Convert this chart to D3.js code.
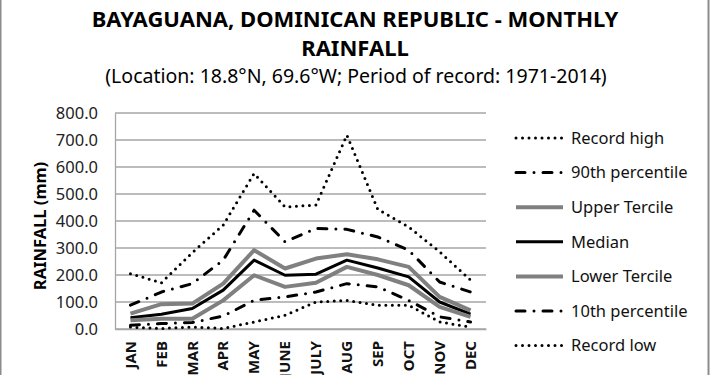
<!DOCTYPE html>
<html>
<head>
<meta charset="utf-8">
<script src="https://cdn.jsdelivr.net/npm/d3@7"></script>
<style>
  html, body { margin: 0; padding: 0; background: #fff; }
  svg { display: block; font-family: "Noto Sans", "Open Sans", sans-serif; }
</style>
</head>
<body>
<div id="chart"></div>
<script>
// monthly rainfall, mm
const months = ["JAN", "FEB", "MAR", "APR", "MAY", "JUNE", "JULY", "AUG", "SEP", "OCT", "NOV", "DEC"];
const recordHigh   = [205, 171, 283, 385, 576, 452, 459, 718, 443, 378, 286, 181];
const pct90        = [88, 137, 168, 255, 440, 323, 372, 369, 341, 292, 174, 137];
const upperTercile = [57, 92, 94, 168, 292, 224, 261, 277, 258, 230, 119, 69];
const median       = [42, 55, 76, 144, 255, 199, 203, 255, 226, 193, 100, 55];
const lowerTercile = [32, 38, 38, 106, 199, 156, 171, 230, 200, 162, 82, 45];
const pct10        = [14, 20, 24, 48, 106, 119, 137, 168, 156, 106, 45, 26];
const recordLow    = [7, 2, 7, 2, 26, 51, 100, 106, 88, 88, 26, 7];
const yTicks = [0, 100, 200, 300, 400, 500, 600, 700, 800];

const W = 710, H = 375;
const margin = { top: 113, right: 224, bottom: 46, left: 115 };
const width = W - margin.left - margin.right;
const height = H - margin.top - margin.bottom;

// line styles per series
const dotStyle = { stroke: "#000", width: 3, dash: "0 6.5", cap: "round" };
const dashDot = { stroke: "#000", width: 3, dash: "9 9 0 9", cap: "round" };
const series = [
    { name: "Record high", values: recordHigh, ...dotStyle },
    { name: "90th percentile", values: pct90, ...dashDot },
    { name: "Upper Tercile", values: upperTercile, stroke: "#808080", width: 4, dash: null, cap: "butt" },
    { name: "Median", values: median, stroke: "#000", width: 3, dash: null, cap: "butt" },
    { name: "Lower Tercile", values: lowerTercile, stroke: "#808080", width: 4, dash: null, cap: "butt" },
    { name: "10th percentile", values: pct10, ...dashDot },
    { name: "Record low", values: recordLow, ...dotStyle }
];

const svg = d3.select("#chart").append("svg")
    .attr("width", W)
    .attr("height", H);

// outer frame (left / right edges visible)
svg.append("line").attr("x1", 0.5).attr("x2", 0.5).attr("y1", 0).attr("y2", H)
    .attr("stroke", "#8c8c8c").attr("stroke-width", 2);
svg.append("line").attr("x1", 708.5).attr("x2", 708.5).attr("y1", 0).attr("y2", H)
    .attr("stroke", "#8c8c8c").attr("stroke-width", 2);

/* titles */
svg.append("text")
    .attr("x", 355).attr("y", 27)
    .attr("text-anchor", "middle")
    .attr("font-size", 22).attr("font-weight", "bold")
    .text("BAYAGUANA, DOMINICAN REPUBLIC - MONTHLY");
svg.append("text")
    .attr("x", 355).attr("y", 56)
    .attr("text-anchor", "middle")
    .attr("font-size", 22).attr("font-weight", "bold")
    .text("RAINFALL");
svg.append("text")
    .attr("x", 356).attr("y", 83)
    .attr("text-anchor", "middle")
    .attr("font-size", 19.5)
    .text("(Location: 18.8°N, 69.6°W; Period of record: 1971-2014)");

const g = svg.append("g")
    .attr("transform", `translate(${margin.left},${margin.top})`);

const x = d3.scaleBand().domain(months).range([0, width]);
const y = d3.scaleLinear().domain([0, 800]).range([height, 0]);

// gridlines
g.append("g")
    .selectAll("line")
    .data(yTicks)
    .join("line")
    .attr("x1", 0).attr("x2", width)
    .attr("y1", d => y(d)).attr("y2", d => y(d))
    .attr("stroke", "#a6a6a6").attr("stroke-width", 1.3);

// y axis
const yAxis = g.append("g")
    .call(d3.axisLeft(y).tickValues(yTicks).tickFormat(d3.format(".1f")).tickSize(0).tickPadding(17));
yAxis.select(".domain").attr("stroke", "#a6a6a6").attr("stroke-width", 1.3);
yAxis.selectAll("text").attr("font-size", 16.5).attr("fill", "#222")
    .attr("font-family", "'Noto Sans', sans-serif");

// x axis
const xAxis = g.append("g")
    .attr("transform", `translate(0,${height})`)
    .call(d3.axisBottom(x).tickSize(0));
xAxis.select(".domain").attr("stroke", "#a6a6a6").attr("stroke-width", 1.3);
xAxis.selectAll("text")
    .attr("font-size", 15).attr("font-weight", "bold").attr("fill", "#111")
    .attr("font-family", "'Noto Sans', sans-serif")
    .attr("text-anchor", "end")
    .attr("dy", "0.35em")
    .attr("transform", "translate(0,12) rotate(-90)")
    .attr("x", 0).attr("y", 0);

// y axis title
svg.append("text")
    .attr("transform", `translate(46,${margin.top + height / 2 + 5}) rotate(-90)`)
    .attr("text-anchor", "middle")
    .attr("font-size", 16.5).attr("font-weight", "bold")
    .text("RAINFALL (mm)");

/* lines */
const line = d3.line()
    .x((d, i) => x(months[i]) + x.bandwidth() / 2)
    .y(d => y(d));

g.selectAll(".series")
    .data(series)
    .join("path")
    .attr("class", "series")
    .attr("fill", "none")
    .attr("stroke", d => d.stroke)
    .attr("stroke-width", d => d.width)
    .attr("stroke-dasharray", d => d.dash)
    .attr("stroke-linecap", d => d.cap)
    .attr("stroke-linejoin", "round")
    .attr("d", d => line(d.values));

/* legend */
const legend = svg.append("g")
    .attr("transform", "translate(516,138)");

const rows = legend.selectAll("g")
    .data(series)
    .join("g")
    .attr("transform", (d, i) => `translate(0,${i * 34.6})`);

rows.append("line")
    .attr("x1", 0).attr("x2", 47)
    .attr("stroke", d => d.stroke)
    .attr("stroke-width", d => d.width)
    .attr("stroke-dasharray", d => d.dash)
    .attr("stroke-linecap", d => d.cap);

rows.append("text")
    .attr("x", 55).attr("y", 0)
    .attr("dy", "0.35em")
    .attr("font-size", 16.5).attr("fill", "#111")
    .text(d => d.name);
</script>
</body>
</html>
